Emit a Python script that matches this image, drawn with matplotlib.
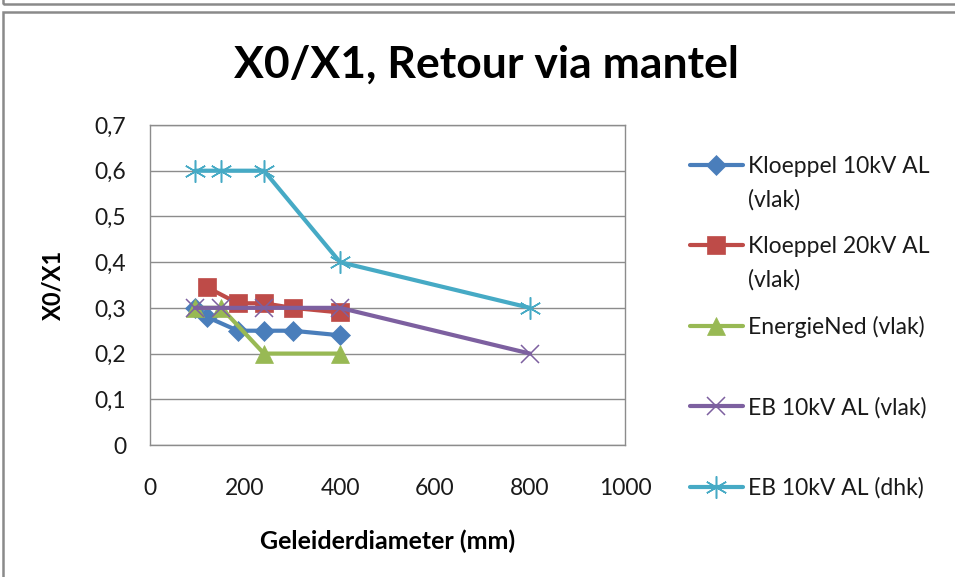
import matplotlib
matplotlib.use('Agg')
import matplotlib.pyplot as plt
from matplotlib.patches import Rectangle
from matplotlib.ticker import FuncFormatter

plt.rcParams['font.family'] = ['Lato', 'DejaVu Sans']

# data
names = ['Kloeppel 10kV AL', 'Kloeppel 20kV AL', 'EnergieNed (vlak)',
         'EB 10kV AL (vlak)', 'EB 10kV AL (dhk)']
second_line = ['(vlak)', '(vlak)', '', '', '']
kl10_x = [95, 120, 185, 240, 300, 400]
kl10_y = [0.30, 0.28, 0.25, 0.25, 0.25, 0.24]
kl20_x = [120, 185, 240, 300, 400]
kl20_y = [0.345, 0.31, 0.31, 0.30, 0.29]
ened_x = [95, 150, 240, 400]
ened_y = [0.30, 0.30, 0.20, 0.20]
eb_vlak_x = [95, 150, 240, 400, 800]
eb_vlak_y = [0.30, 0.30, 0.30, 0.30, 0.20]
eb_dhk_x = [95, 150, 240, 400, 800]
eb_dhk_y = [0.60, 0.60, 0.60, 0.40, 0.30]

series = [(kl10_x, kl10_y), (kl20_x, kl20_y), (ened_x, ened_y),
          (eb_vlak_x, eb_vlak_y), (eb_dhk_x, eb_dhk_y)]
colors = ['#4A7EBB', '#BE4B48', '#98B954', '#7D60A0', '#46AAC5']
markers = ['D', 's', '^', 'x', (6, 2, 0)]
msizes = [10, 13, 13, 13, 16]

W, H = 955, 577
FS = 16.5
fig = plt.figure(figsize=(W / 100, H / 100), dpi=100)
ax = fig.add_axes([150 / W, 1 - 445 / H, 475 / W, 320 / H])

for (xs, ys), c, m, ms, name in zip(series, colors, markers, msizes, names):
    thin = m in ('x',) or isinstance(m, tuple)
    ax.plot(xs, ys, color=c, lw=3, marker=m, ms=ms,
            mfc=c, mec=c, mew=1.1 if thin else 0.5, label=name,
            solid_capstyle='round', solid_joinstyle='round')

ax.set_xlim(0, 1000)
ax.set_ylim(0, 0.7)
ax.set_xticks([0, 200, 400, 600, 800, 1000])
ax.set_yticks([0, 0.1, 0.2, 0.3, 0.4, 0.5, 0.6, 0.7])
ax.yaxis.set_major_formatter(FuncFormatter(
    lambda v, p: '0' if abs(v) < 1e-9 else f'{v:.1f}'.replace('.', ',')))
ax.grid(axis='y', color='#8C8C8C', lw=1)
ax.set_axisbelow(True)
for s in ax.spines.values():
    s.set_color('#8C8C8C')
    s.set_linewidth(1)
ax.tick_params(axis='both', length=0, labelsize=FS, colors='#1a1a1a')
ax.tick_params(axis='y', pad=17)
ax.tick_params(axis='x', pad=24)

ax.set_xlabel('Geleiderdiameter (mm)', fontsize=18, fontweight='bold')
ax.set_ylabel('X0/X1', fontsize=17, fontweight='bold')
ax.xaxis.set_label_coords(0.5, -0.265)
ax.yaxis.set_label_coords(-0.18, 0.5)

fig.text(486 / W, 1 - 65 / H, 'X0/X1, Retour via mantel', fontsize=32,
         fontweight='bold', ha='center', va='center')

leg = ax.legend(loc='upper left', bbox_to_anchor=(690 / W, 1 - 156 / H),
                bbox_transform=fig.transFigure, frameon=False, fontsize=FS,
                handlelength=2.3, handletextpad=0.25, borderpad=0,
                labelspacing=2.57, borderaxespad=0)

# second lines of the two-line legend labels
fig.canvas.draw()
for t, extra in zip(leg.get_texts(), second_line):
    if extra:
        bb = t.get_window_extent()
        fig.text(bb.x0 / W, (bb.y0 - 34) / H, extra, fontsize=FS,
                 color='#1a1a1a', ha='left', va='bottom')
for t in leg.get_texts():
    t.set_color('#1a1a1a')

# chart frame and the edge of the chart above it
fig.add_artist(Rectangle((3 / W, -0.2), 2, 1.2 - 12 / H,
                         transform=fig.transFigure, fill=False,
                         ec='#8A8A8A', lw=1.8))
fig.add_artist(Rectangle((3 / W, 1 - 4 / H), 2, 1,
                         transform=fig.transFigure, fill=False,
                         ec='#8A8A8A', lw=1.8))

fig.savefig('out.png', dpi=100)
